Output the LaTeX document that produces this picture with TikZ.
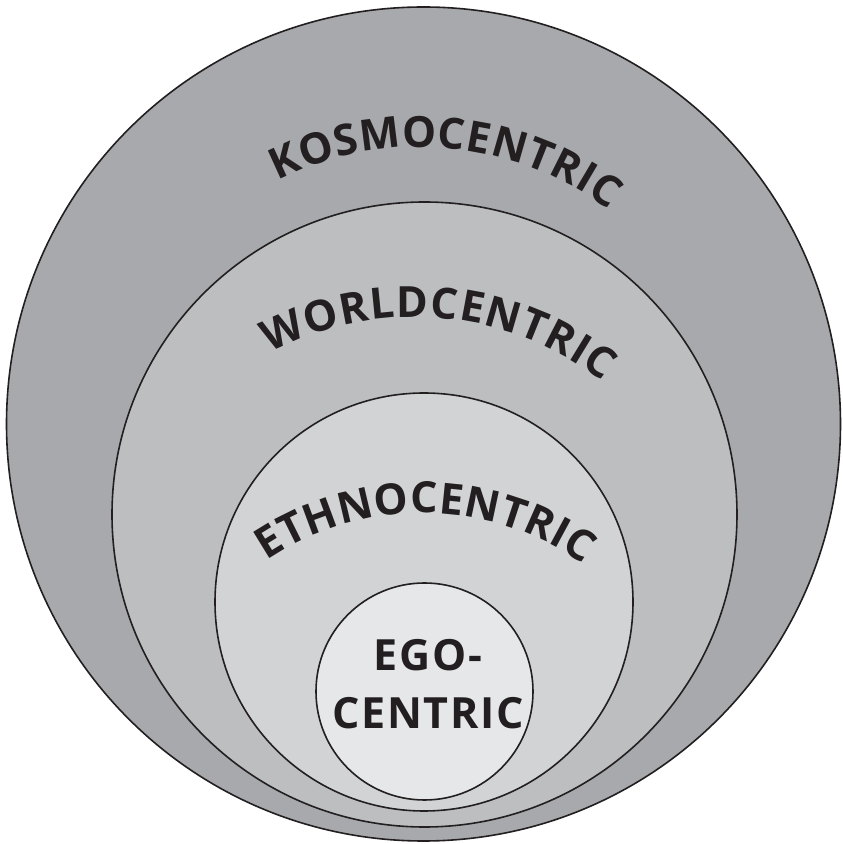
\documentclass[tikz,border=0pt]{standalone}
\usepackage{fontspec}
\setmainfont{Open Sans}
\usepackage{tikz}
\usetikzlibrary{decorations.text}
\definecolor{kosmogray}{HTML}{A7A9AC}
\definecolor{worldgray}{HTML}{BCBEC0}
\definecolor{ethnogray}{HTML}{D1D3D4}
\definecolor{egogray}{HTML}{E6E7E8}
\definecolor{ink}{HTML}{231F20}
\newcommand{\arcfont}{\fontsize{43}{48}\selectfont\bfseries}
\newcommand{\egofont}{\fontsize{43}{58}\selectfont\bfseries\addfontfeatures{LetterSpace=4}}

\begin{document}
\begin{tikzpicture}[x=1pt,y=1pt,ring/.style={circle,draw=ink,line width=1.6pt,inner sep=0pt},arclabel/.style={decorate,decoration={text along path,text align={fit to path},text color=ink}}]
\useasboundingbox (0,0) rectangle (843,844);
% rings, outermost first
\node[ring,fill=kosmogray,minimum size=834pt] (kosmo) at (423.5,420) {};
\node[ring,fill=worldgray,minimum size=625pt] (world) at (424.5,329.5) {};
\node[ring,fill=ethnogray,minimum size=418pt] (ethno) at (424,242) {};
\node[ring,fill=egogray,minimum size=217pt] (ego) at (424.5,152.5) {};
% curved labels
\path[arclabel,decoration={text={|\arcfont|KOSMOCENTRIC}}] (420,384) ++(117:313pt) arc[start angle=117,end angle=53,radius=313pt];
\path[arclabel,decoration={text={|\arcfont|WORLDCENTRIC}}] (414,220) ++(118:307pt) arc[start angle=118,end angle=52,radius=307pt];
\path[arclabel,decoration={text={|\arcfont|ETHNOCENTRIC}}] (422,53) ++(124:278pt) arc[start angle=124,end angle=54.5,radius=278pt];
\node[font=\egofont,align=center,text=ink,inner sep=0pt] (egolabel) at (428,160) {EGO-\\CENTRIC};
\end{tikzpicture}
\end{document}
